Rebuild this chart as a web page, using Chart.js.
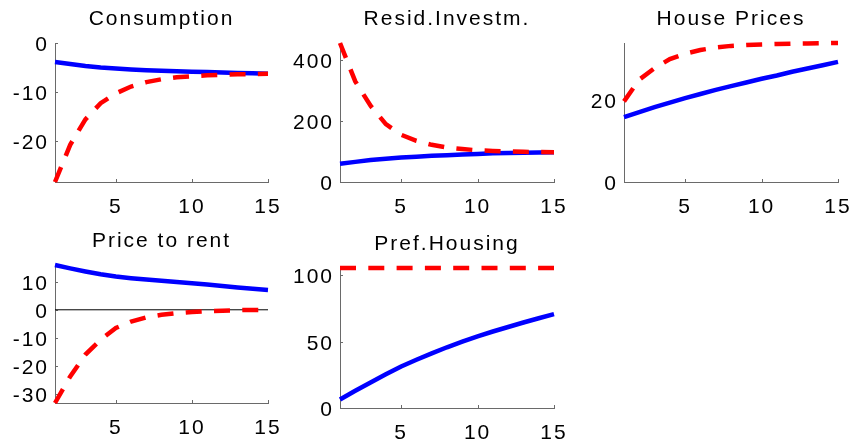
<!DOCTYPE html>
<html>
<head>
<meta charset="utf-8">
<script src="https://cdn.jsdelivr.net/npm/chart.js@4.4.1/dist/chart.umd.min.js"></script>
<style>
  html, body { margin: 0; padding: 0; background: #fff; overflow: hidden; width: 854px; height: 439px; }
  canvas { position: absolute; }
</style>
</head>
<body>
<canvas id="consumption"></canvas>
<canvas id="residInvest"></canvas>
<canvas id="housePrices"></canvas>
<canvas id="priceRent"></canvas>
<canvas id="prefHousing"></canvas>
<script>
// Impulse responses, quarters 1..15
const periods = [1, 2, 3, 4, 5, 6, 7, 8, 9, 10, 11, 12, 13, 14, 15];
const xTickValues = [5, 10, 15];

const consumptionSolid  = [-3.9, -4.3, -4.7, -5.0, -5.2, -5.4, -5.55, -5.65, -5.75, -5.85, -5.95, -6.05, -6.15, -6.2, -6.3];
const consumptionDashed = [-28.4, -20.8, -15.6, -12.3, -10.3, -8.9, -8.0, -7.4, -7.0, -6.8, -6.6, -6.5, -6.4, -6.35, -6.3];
const consumptionTicks  = [-20, -10, 0];

const residSolid  = [60, 66, 72, 76, 80, 83, 86, 88, 90, 92, 94, 95, 96, 97, 98];
const residDashed = [456, 330, 250, 190, 155, 135, 122, 113, 108, 104, 102, 100, 99, 98.5, 98];
const residTicks  = [0, 200, 400];

const houseSolid  = [15.8, 17.0, 18.2, 19.3, 20.4, 21.4, 22.4, 23.3, 24.2, 25.1, 25.9, 26.8, 27.6, 28.4, 29.2];
const houseDashed = [19.6, 24.9, 27.7, 29.9, 31.2, 32.1, 32.7, 33.1, 33.3, 33.45, 33.55, 33.65, 33.7, 33.75, 33.8];
const houseTicks  = [0, 20];

const rentSolid  = [16.0, 14.8, 13.7, 12.7, 11.9, 11.3, 10.8, 10.4, 9.9, 9.5, 9.0, 8.5, 8.0, 7.5, 7.1];
const rentDashed = [-33.3, -23.8, -16.0, -10.7, -6.5, -4.2, -2.7, -1.8, -1.2, -0.8, -0.5, -0.3, -0.15, -0.05, 0];
const rentTicks  = [-30, -20, -10, 0, 10];
const rentZero   = [0, 0];

const prefSolid  = [6.4, 13.0, 19.3, 25.4, 31.3, 36.4, 41.2, 45.8, 50.0, 54.0, 57.7, 61.1, 64.5, 67.7, 70.8];
const prefDashed = [105.6, 105.6, 105.6, 105.6, 105.6, 105.6, 105.6, 105.6, 105.6, 105.6, 105.6, 105.6, 105.6, 105.6, 105.6];
const prefTicks  = [0, 50, 100];

// Plot-area rectangles on the page: [left, top, right, bottom]
const panels = [
  { id: 'consumption', title: 'Consumption',    solid: consumptionSolid, dashed: consumptionDashed, ticks: consumptionTicks, yMin: -28.4, yMax: 0,     rect: [55, 43, 268, 182] },
  { id: 'residInvest', title: 'Resid.Investm.', solid: residSolid,       dashed: residDashed,       ticks: residTicks,       yMin: 0,     yMax: 456,   rect: [340, 43, 554, 182] },
  { id: 'housePrices', title: 'House Prices',   solid: houseSolid,       dashed: houseDashed,       ticks: houseTicks,       yMin: 0,     yMax: 33.8,  rect: [624, 43, 838, 182] },
  { id: 'priceRent',   title: 'Price to rent',  solid: rentSolid,        dashed: rentDashed,        ticks: rentTicks,        yMin: -33.3, yMax: 16,    rect: [55, 265, 268, 403], zero: rentZero },
  { id: 'prefHousing', title: 'Pref.Housing',   solid: prefSolid,        dashed: prefDashed,        ticks: prefTicks,        yMin: 0,     yMax: 105.6, rect: [340, 268, 554, 408] }
];

const AXIS_W = 55, TITLE_H = 43, XAXIS_H = 38, RIGHT_PAD = 30;
const AXIS_COLOR = '#6a6a6a';
const FONT = 'Liberation Sans, Arial, Helvetica, sans-serif';

// Spaced-out lettering for every label on the canvas
const letterSpacing = {
  id: 'letterSpacing',
  beforeDraw(chart) { chart.ctx.letterSpacing = '2px'; }
};

// Short tick marks pointing into the plot area
const innerTicks = {
  id: 'innerTicks',
  beforeDatasetsDraw(chart) {
    const { ctx, chartArea: a, scales: { x, y } } = chart;
    ctx.save();
    ctx.strokeStyle = AXIS_COLOR;
    ctx.lineWidth = 1;
    ctx.beginPath();
    x.ticks.forEach(t => {
      const px = Math.round(x.getPixelForValue(t.value)) + 0.5;
      ctx.moveTo(px, a.bottom); ctx.lineTo(px, a.bottom - 3);
    });
    y.ticks.forEach(t => {
      const py = Math.round(y.getPixelForValue(t.value)) + 0.5;
      ctx.moveTo(a.left, py); ctx.lineTo(a.left + 3, py);
    });
    ctx.stroke();
    ctx.restore();
  }
};

const toPoints = vals => vals.map((v, i) => ({ x: periods[i], y: v }));

panels.forEach(p => {
  const [l, t, r, b] = p.rect;
  const canvas = document.getElementById(p.id);
  const w = AXIS_W + (r - l) + RIGHT_PAD;
  const h = TITLE_H + (b - t) + XAXIS_H;
  canvas.width = w; canvas.height = h;
  canvas.style.left = (l - AXIS_W) + 'px';
  canvas.style.top = (t - TITLE_H) + 'px';
  canvas.style.width = w + 'px';
  canvas.style.height = h + 'px';

  const datasets = [
    { data: toPoints(p.dashed), borderColor: '#ff0000', borderWidth: 4.5, borderDash: [16, 12.3] },
    { data: toPoints(p.solid),  borderColor: '#0000ff', borderWidth: 4.5 }
  ];
  if (p.zero) {
    datasets.push({ data: p.zero.map((v, i) => ({ x: i === 0 ? periods[0] : periods[periods.length - 1], y: v })),
                    borderColor: '#000000', borderWidth: 1 });
  }
  datasets.forEach(d => { d.pointRadius = 0; d.tension = 0; d.clip = false; d.fill = false; });

  new Chart(canvas, {
    type: 'line',
    data: { datasets },
    plugins: [letterSpacing, innerTicks],
    options: {
      responsive: false,
      animation: false,
      devicePixelRatio: 1,
      layout: { padding: { left: 0, top: 0, bottom: 0, right: RIGHT_PAD } },
      plugins: {
        legend: { display: false },
        tooltip: { enabled: false },
        title: {
          display: true,
          text: p.title,
          fullSize: false,
          color: '#000',
          font: { family: FONT, size: 21, weight: 'normal', lineHeight: 1 },
          padding: { top: 9, bottom: 13 }
        }
      },
      scales: {
        x: {
          type: 'linear',
          min: periods[0],
          max: periods[periods.length - 1],
          afterBuildTicks: s => { s.ticks = xTickValues.map(v => ({ value: v })); },
          afterFit: s => { s.height = XAXIS_H; },
          grid: { display: false, drawTicks: false },
          border: { display: true, color: AXIS_COLOR, width: 1 },
          ticks: { color: '#000', padding: 13, maxRotation: 0, font: { family: FONT, size: 21 } }
        },
        y: {
          type: 'linear',
          min: p.yMin,
          max: p.yMax,
          afterBuildTicks: s => { s.ticks = p.ticks.map(v => ({ value: v })); },
          afterFit: s => { s.width = AXIS_W; },
          grid: { display: false, drawTicks: false },
          border: { display: true, color: AXIS_COLOR, width: 1 },
          ticks: { color: '#000', padding: 6, labelOffset: 2, font: { family: FONT, size: 21 } }
        }
      }
    }
  });
});
</script>
</body>
</html>
